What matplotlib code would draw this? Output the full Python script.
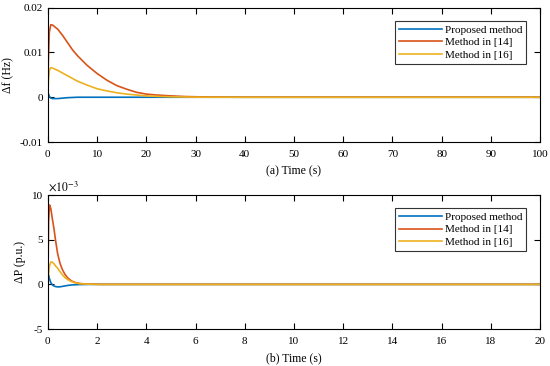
import matplotlib
matplotlib.use('Agg')
import matplotlib.pyplot as plt

plt.rcParams['font.family'] = ['Liberation Serif', 'DejaVu Serif']
plt.rcParams['mathtext.fontset'] = 'stix'
plt.rcParams['axes.unicode_minus'] = False

# (a) frequency deviation, Hz
t_a = [0, 0.1, 0.3, 0.6, 1, 2, 3, 4, 5, 6, 8, 10, 12, 14, 16, 18, 20, 22, 25, 28, 32, 36, 40, 50, 100]
prop_a = [0, 0.0008, 0.0002, -0.0002, -0.0003, -0.0003, -0.0002, -0.0001, -0.00005, 0, 0, 0, 0,
          0, 0, 0, 0, 0, 0, 0, 0, 0, 0, 0, 0]
m14_a = [0, 0.0080, 0.0145, 0.0162, 0.0161, 0.0152, 0.0138, 0.0122, 0.0106, 0.0093, 0.0071, 0.0053,
         0.0038, 0.0026, 0.0018, 0.0011, 0.0007, 0.0005, 0.0003, 0.00015, 0.00006, 0.00002, 0, 0, 0]
m16_a = [0, 0.0035, 0.0060, 0.0066, 0.0065, 0.0060, 0.0054, 0.0048, 0.0042, 0.0036, 0.0027, 0.0019,
         0.0014, 0.0010, 0.0007, 0.0005, 0.0003, 0.0002, 0.0001, 0.00005, 0, 0, 0, 0, 0]

# (b) power deviation, x1e-3 p.u.
t_b = [0, 0.03, 0.07, 0.12, 0.18, 0.25, 0.32, 0.4, 0.5, 0.6, 0.7, 0.8, 0.95, 1.1, 1.3, 1.5, 1.8, 2.2, 3, 20]
prop_b = [0, 1.0, 0.6, 0.2, -0.05, -0.18, -0.25, -0.28, -0.27, -0.22, -0.17, -0.12, -0.07, -0.04,
          -0.02, -0.01, 0, 0, 0, 0]
m14_b = [0, 7.0, 8.9, 8.5, 7.4, 6.2, 4.8, 3.4, 2.3, 1.6, 1.1, 0.75, 0.4, 0.22, 0.1, 0.05, 0.02, 0, 0, 0]
m16_b = [0, 1.2, 2.1, 2.5, 2.5, 2.3, 2.05, 1.8, 1.4, 1.05, 0.75, 0.55, 0.32, 0.18, 0.08, 0.04, 0.01,
         0, 0, 0]

labels = ['Proposed method', 'Method in [14]', 'Method in [16]']
colors = ['#0072BD', '#D95319', '#EDB120']

fig = plt.figure(figsize=(5.5, 3.66), dpi=100)
ax1 = fig.add_axes([0.087, 0.612, 0.895, 0.367])
ax2 = fig.add_axes([0.087, 0.101, 0.895, 0.366])


def style_axes(ax):
    ax.tick_params(direction='in', top=True, right=True, length=4, width=0.8, labelsize=8)
    ax.tick_params(axis='x', pad=5.5)
    ax.tick_params(axis='y', pad=3.5)
    for sp in ax.spines.values():
        sp.set_linewidth(0.8)


for ys, c, lab in zip([prop_a, m14_a, m16_a], colors, labels):
    ax1.plot(t_a, ys, color=c, lw=1.2, label=lab)
ax1.set_xlim(0, 100)
ax1.set_ylim(-0.01, 0.02)
ax1.set_xticks(range(0, 101, 10))
ax1.set_yticks([-0.01, 0, 0.01, 0.02])
ax1.set_yticklabels(['-0.01', '0', '0.01', '0.02'])
ax1.set_xlabel('(a) Time (s)', fontsize=8.5, labelpad=5)
ax1.set_ylabel('Δf (Hz)', fontsize=8.5)
ax1.yaxis.set_label_coords(-0.068, 0.5)
style_axes(ax1)

for ys, c, lab in zip([prop_b, m14_b, m16_b], colors, labels):
    ax2.plot(t_b, ys, color=c, lw=1.2, label=lab)
ax2.set_xlim(0, 20)
ax2.set_ylim(-5, 10)
ax2.set_xticks(range(0, 21, 2))
ax2.set_yticks([-5, 0, 5, 10])
ax2.set_xlabel('(b) Time (s)', fontsize=8.5, labelpad=5)
ax2.set_ylabel('ΔP (p.u.)', fontsize=8.5)
ax2.yaxis.set_label_coords(-0.045, 0.5)
ax2.text(0.0, 1.01, r'$\times 10^{-3}$', transform=ax2.transAxes, fontsize=8.5, ha='left', va='bottom')
style_axes(ax2)

for ax in (ax1, ax2):
    leg = ax.legend(loc='upper right', bbox_to_anchor=(0.972, 0.902), fontsize=8, frameon=True,
                    fancybox=False, edgecolor='black', handlelength=3.8, borderpad=0.35,
                    labelspacing=0.25, handletextpad=0.3, borderaxespad=0)
    leg.get_frame().set_linewidth(0.8)

fig.savefig('out.png', dpi=100)
